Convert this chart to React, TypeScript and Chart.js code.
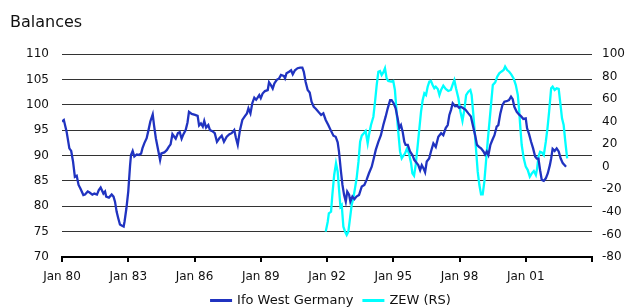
import React, { useEffect, useRef } from "react";
import { Chart, registerables } from "chart.js";

Chart.register(...registerables);

const FONT = "DejaVu Sans";

// Months since Jan 1980
const ifoMonths = [
  0, 1, 2.5, 4, 5, 6, 7, 8, 9, 10, 11.6, 12.5, 14, 15, 16.5, 17.6, 19, 20, 21, 22.5, 23.4, 24, 25.5, 27, 28, 28.8,
  29.7, 30.6, 31.5, 32.4, 33.5, 34, 35, 36, 37, 37.5, 38.4, 39.3, 40.6, 41.8, 43, 43.7, 44.7, 46, 47, 48, 49.3, 50,
  51, 52.4, 53.3, 54, 55.6, 57, 58, 59, 60, 61, 61.8, 63, 64, 65, 66, 67.2, 68.2, 69, 70.5, 72.3, 73.7, 74.5, 75.5,
  76.5, 77.3, 78.3, 79.5, 80.4, 81.7, 83, 84.2, 85.5, 86.8, 88, 89.5, 91, 92.2, 93.6, 94.5, 95.5, 96.7, 98, 99.5,
  100.5, 101.3, 102.4, 103.4, 104.5, 105.5, 106.3, 107.2, 108, 109, 110.3, 111.8, 112.5, 113.6, 114.5, 115.4, 116.7,
  118, 119, 120.5, 121.2, 122, 123.4, 124.5, 125.4, 126.6, 128, 129.4, 130.6, 131.4, 132.4, 133.5, 134.6, 135.6,
  136.8, 137.9, 139.3, 140.8, 142, 143.3, 144.7, 146, 147.5, 148.7, 149.8, 150.5, 151.6, 152.4, 153.3, 154.2, 155,
  156, 156.7, 157.8, 158.9, 160, 161.4, 162.9, 164.3, 165.5, 166.8, 168.3, 169.4, 170.5, 171.9, 173.3, 174.6, 175.9,
  177, 178.3, 179.1, 180.2, 181.3, 182.4, 183.3, 184.2, 185.1, 186, 186.7, 187.9, 189.1, 190.4, 191.5, 192.8, 193.6,
  194.6, 195.5, 196.4, 197.3, 198.2, 199.5, 200.5, 201.8, 203.1, 204.5, 206, 207.2, 208.5, 209.6, 210.5, 211.4,
  212.3, 213.6, 214.7, 215.8, 216.8, 218.1, 219.3, 220.8, 222.2, 223.4, 224.5, 225.5, 226.6, 227.7, 229, 229.9,
  230.8, 231.7, 232.8, 233.9, 235, 236.2, 237.1, 238.2, 239.3, 240.4, 241.6, 242.9, 244, 244.9, 245.8, 247.1, 248.3,
  249.5, 250.7, 252, 252.7, 253.8, 254.9, 256, 257.1, 258, 258.9, 259.8, 260.7, 261.8, 262.9, 264, 265.1, 265.8,
  266.6, 267.7, 268.8, 269.9, 271, 272.1, 273.9,
];
const ifoValues = [
  96.7, 97.0, 94.7, 91.4, 90.9, 88.8, 85.8, 86.0, 84.2, 83.5, 82.2, 82.3, 82.9, 82.7, 82.3, 82.5, 82.3, 83.2, 83.7,
  82.5, 82.9, 81.9, 81.7, 82.3, 81.9, 80.9, 78.9, 77.6, 76.4, 76.2, 76.0, 77.0, 79.6, 82.9, 88.1, 90.1, 90.9, 89.8,
  90.2, 90.1, 90.4, 91.4, 92.4, 93.4, 95.0, 96.7, 98.1, 96.0, 93.4, 90.8, 89.1, 90.4, 90.6, 91.1, 91.7, 92.2, 94.2,
  93.7, 93.3, 94.4, 94.6, 93.3, 94.2, 95.0, 96.5, 98.6, 98.2, 98.0, 97.8, 95.9, 96.3, 95.7, 96.8, 95.5, 96.0, 95.0,
  94.8, 94.4, 92.7, 93.4, 93.9, 92.7, 93.7, 94.2, 94.4, 95.0, 93.5, 92.1, 95.0, 97.0, 97.8, 98.3, 99.3, 98.3, 100.3,
  101.4, 101.0, 101.4, 101.9, 101.3, 102.2, 102.7, 102.9, 104.4, 103.8, 103.2, 104.2, 104.9, 105.2, 105.9, 105.7,
  105.2, 106.2, 106.5, 106.8, 106.0, 106.8, 107.2, 107.3, 107.3, 106.5, 104.5, 102.9, 102.4, 100.6, 99.6, 99.2, 98.6,
  98.0, 98.3, 97.0, 96.0, 95.0, 93.9, 93.7, 92.6, 90.8, 86.8, 84.2, 82.2, 80.9, 82.9, 82.3, 80.9, 81.9, 81.4, 81.9,
  82.2, 83.9, 84.2, 85.2, 86.5, 87.8, 89.4, 91.1, 92.7, 94.0, 96.0, 97.7, 99.3, 100.9, 100.9, 100.3, 99.3, 97.3,
  95.4, 96.0, 94.7, 92.7, 92.1, 92.1, 90.8, 90.1, 89.1, 88.5, 88.1, 87.1, 88.1, 87.5, 86.7, 88.8, 89.4, 90.8, 92.4,
  91.7, 93.7, 94.4, 94.0, 95.4, 96.0, 98.0, 99.0, 100.3, 99.7, 99.8, 99.4, 99.6, 99.3, 99.0, 98.3, 97.7, 95.7, 94.0,
  92.1, 91.7, 91.4, 90.8, 90.2, 90.8, 90.1, 92.1, 93.1, 94.0, 95.7, 96.0, 98.3, 99.9, 100.6, 100.7, 100.9, 101.6,
  101.1, 99.6, 98.6, 98.1, 97.7, 97.2, 97.3, 95.4, 94.2, 92.7, 91.4, 89.8, 89.4, 89.4, 87.1, 85.2, 85.0, 85.5, 86.5,
  88.1, 89.4, 91.3, 90.9, 91.4, 90.8, 89.4, 88.5, 87.8,
];

const zewMonths = [
  143.3, 144.4, 145, 146.2, 146.9, 147.9, 148.9, 149.8, 150.5, 151.3, 152, 152.9, 153.8, 154.7, 155.6, 156.5, 157.4,
  158.3, 159.2, 160.1, 161.1, 162, 162.9, 164, 165, 166.1, 166.8, 167.9, 169.2, 170.1, 171, 171.9, 172.8, 173.7,
  174.6, 175.5, 176.4, 177.3, 178.8, 180, 180.9, 181.8, 182.8, 183.7, 184.6, 185.5, 186.4, 187.5, 188.5, 189.7,
  190.4, 191.3, 192.2, 193.3, 194.2, 195.1, 196, 196.9, 197.8, 198.7, 199.6, 200.5, 201.4, 202.3, 203.1, 204.2,
  205.1, 206, 207.2, 208.5, 209.9, 211.3, 212.5, 213.2, 214.1, 215.4, 216.5, 217.6, 218.6, 219.6, 220.8, 221.9,
  222.6, 223.7, 224.8, 225.9, 226.8, 227.7, 228.6, 229.5, 230.4, 231.3, 232.3, 233.2, 234.1, 235.4, 236.5, 237.6,
  238.7, 240, 240.8, 241.9, 243, 244.1, 245.4, 246.6, 247.7, 248.4, 249.1, 249.8, 250.9, 252, 253.1, 254.2, 255.3,
  256.4, 257.5, 258.2, 258.9, 259.8, 260.7, 261.8, 262.9, 263.8, 264.7, 265.8, 266.6, 267.7, 268.8, 269.9, 270.8,
  271.7, 272.6, 273.5, 274.5,
];
const zewValues = [
  -57.5, -48.7, -41.3, -39.8, -25.0, -7.3, 3.1, -4.3, -19.1, -35.4, -33.9, -53.1, -57.5, -60.5, -57.5, -45.7, -33.9,
  -28.0, -19.1, -10.2, 4.5, 22.3, 27.6, 29.7, 31.7, 20.8, 28.2, 37.0, 44.4, 57.7, 72.5, 84.3, 84.9, 81.4, 83.7, 87.3,
  78.4, 76.1, 75.5, 76.1, 68.1, 48.9, 29.7, 13.4, 7.5, 9.8, 11.9, 16.4, 11.9, 3.1, -5.8, -7.9, 1.6, 19.3, 34.1, 48.9,
  59.2, 65.1, 63.6, 71.0, 75.5, 76.1, 72.5, 69.6, 71.0, 69.0, 63.6, 68.1, 71.9, 69.0, 67.2, 68.1, 74.0, 76.9, 69.6,
  60.7, 48.9, 40.6, 50.3, 63.6, 66.6, 68.1, 63.6, 43.0, 19.3, -4.3, -16.2, -24.4, -24.4, -13.2, 4.5, 22.3, 40.0,
  56.3, 72.5, 74.9, 79.9, 82.9, 84.3, 85.8, 88.8, 85.8, 84.3, 82.0, 78.4, 72.5, 63.6, 50.3, 34.1, 19.3, 7.5, 0.1,
  -2.9, -8.8, -5.8, -3.7, -7.3, -1.4, 9.0, 13.4, 12.8, 10.4, 22.3, 34.1, 48.9, 69.6, 71.0, 68.1, 69.6, 69.0, 56.3,
  43.0, 37.0, 22.3, 7.5,
];

const xTickYears = [80, 83, 86, 89, 92, 95, 98, 1];
const leftTicks = [70, 75, 80, 85, 90, 95, 100, 105, 110];
const rightTicks = [-80, -60, -40, -20, 0, 20, 40, 60, 80, 100];

const IFO_COLOR = "#2033c0";
const ZEW_COLOR = "#00ffff";

const titlePlugin = {
  id: "balancesTitle",
  afterDraw(chart: any) {
    const ctx = chart.ctx;
    ctx.save();
    ctx.font = `16px "${FONT}"`;
    ctx.fillStyle = "#111";
    ctx.textAlign = "left";
    ctx.textBaseline = "alphabetic";
    ctx.fillText("Balances", 10, 27);
    ctx.restore();
  },
};

// Bottom legend drawn as a line sample + label per dataset, centred under the plot
const legendPlugin = {
  id: "lineLegend",
  afterDraw(chart: any) {
    const ctx = chart.ctx;
    ctx.save();
    ctx.font = `13px "${FONT}"`;
    ctx.textBaseline = "middle";
    ctx.textAlign = "left";
    const sample = 22;
    const gapText = 5;
    const gapItem = 9;
    const items = chart.data.datasets.map((ds: any) => ({
      text: ds.label,
      color: ds.borderColor,
      w: ctx.measureText(ds.label).width,
    }));
    const total =
      items.reduce((s: number, it: any) => s + sample + gapText + it.w, 0) + gapItem * (items.length - 1);
    const centre = 330.5;
    const y = 300.5;
    let x = centre - total / 2;
    items.forEach((it: any) => {
      ctx.strokeStyle = it.color;
      ctx.lineWidth = 3;
      ctx.beginPath();
      ctx.moveTo(x, y);
      ctx.lineTo(x + sample, y);
      ctx.stroke();
      x += sample + gapText;
      ctx.fillStyle = "#111";
      ctx.fillText(it.text, x, y);
      x += it.w + gapItem;
    });
    ctx.restore();
  },
};

export default function App() {
  const ref = useRef<HTMLCanvasElement>(null);
  useEffect(() => {
    document.body.style.margin = "0";
    const chart = new Chart(ref.current!, {
      type: "line",
      data: {
        datasets: [
          {
            label: "Ifo West Germany",
            data: ifoMonths.map((m, i) => ({ x: m, y: ifoValues[i] })),
            borderColor: IFO_COLOR,
            backgroundColor: IFO_COLOR,
            borderWidth: 2.3,
            pointRadius: 0,
            tension: 0,
            yAxisID: "y",
          },
          {
            label: "ZEW (RS)",
            data: zewMonths.map((m, i) => ({ x: m, y: zewValues[i] })),
            borderColor: ZEW_COLOR,
            backgroundColor: ZEW_COLOR,
            borderWidth: 2.3,
            pointRadius: 0,
            tension: 0,
            yAxisID: "y1",
          },
        ],
      },
      options: {
        animation: false,
        responsive: false,
        layout: { padding: { left: 0, right: 0, top: 54, bottom: 22 } },
        plugins: {
          tooltip: { enabled: false },
          legend: { display: false },
        },
        scales: {
          x: {
            type: "linear",
            min: 0,
            max: 288,
            afterBuildTicks(scale: any) {
              scale.ticks = [...xTickYears.map((yy) => ({ value: ((yy + 100 - 80) % 100) * 12 })), { value: 288 }];
            },
            ticks: {
              autoSkip: false,
              maxRotation: 0,
              padding: 8,
              color: "#111",
              font: { family: FONT, size: 12 },
              callback(v: any) {
                const y = (80 + Number(v) / 12) % 100;
                if (Number(v) >= 288) return "";
                return "Jan " + String(Math.round(y)).padStart(2, "0");
              },
            },
            grid: { display: true, drawOnChartArea: false, drawTicks: true, tickLength: 5, color: "#000", lineWidth: 2 },
            border: { display: true, color: "#000", width: 2 },
            afterFit(scale: any) {
              scale.height = 28;
            },
          },
          y: {
            position: "left",
            min: 70,
            max: 110,
            afterBuildTicks(scale: any) {
              scale.ticks = leftTicks.map((v) => ({ value: v }));
            },
            ticks: { padding: 13, color: "#111", font: { family: FONT, size: 12 } },
            grid: { color: "#333", lineWidth: 1, drawTicks: false },
            border: { display: false },
            afterFit(scale: any) {
              scale.width = 62;
            },
          },
          y1: {
            position: "right",
            min: -80,
            max: 100,
            afterBuildTicks(scale: any) {
              scale.ticks = rightTicks.map((v) => ({ value: v }));
            },
            ticks: { padding: 10, color: "#111", font: { family: FONT, size: 12 } },
            grid: { drawOnChartArea: false, drawTicks: false },
            border: { display: false },
            afterFit(scale: any) {
              scale.width = 35;
            },
          },
        },
      },
      plugins: [titlePlugin, legendPlugin],
    });
    return () => chart.destroy();
  }, []);
  return (
    <div style={{ width: 627, height: 307 }}>
      <canvas ref={ref} width={627} height={307} style={{ display: "block" }} />
    </div>
  );
}
